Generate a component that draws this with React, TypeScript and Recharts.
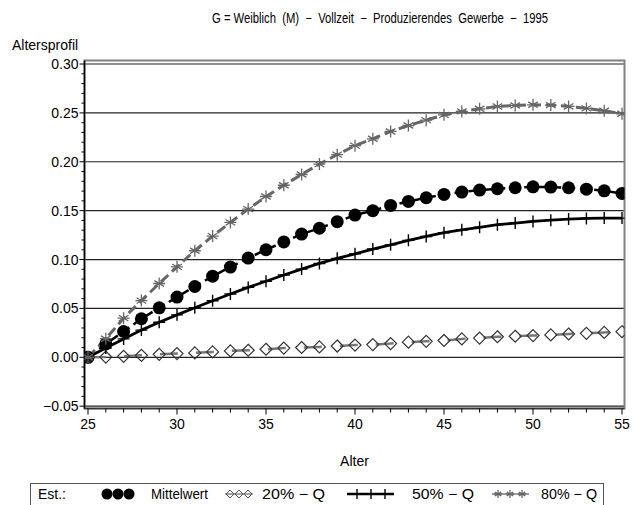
import React from 'react';
import { LineChart, Line, XAxis, YAxis, CartesianGrid, ReferenceArea } from 'recharts';

const ages = [25, 26, 27, 28, 29, 30, 31, 32, 33, 34, 35, 36, 37, 38, 39, 40, 41, 42, 43, 44, 45, 46, 47, 48, 49, 50, 51, 52, 53, 54, 55];
const mittelwert = [0, 0.0137, 0.0264, 0.0394, 0.0506, 0.0616, 0.0724, 0.083, 0.0923, 0.1015, 0.110, 0.118, 0.126, 0.132, 0.1387, 0.1455, 0.150, 0.1553, 0.1594, 0.1632, 0.1666, 0.169, 0.171, 0.1724, 0.1734, 0.1744, 0.1741, 0.1734, 0.172, 0.1703, 0.1676];
const q20 = [0, 0.0002, 0.001, 0.002, 0.003, 0.0038, 0.0045, 0.0055, 0.0065, 0.0072, 0.0082, 0.0094, 0.010, 0.0106, 0.0115, 0.0125, 0.013, 0.014, 0.0155, 0.0163, 0.0172, 0.0188, 0.0196, 0.021, 0.0215, 0.0222, 0.0229, 0.0238, 0.0245, 0.0254, 0.0262];
const q50 = [0, 0.0095, 0.0188, 0.0278, 0.0358, 0.0434, 0.0507, 0.0578, 0.0648, 0.0715, 0.0778, 0.0842, 0.0902, 0.0960, 0.1012, 0.1058, 0.1107, 0.115, 0.1196, 0.1236, 0.1274, 0.1304, 0.1330, 0.1356, 0.1373, 0.139, 0.1403, 0.1414, 0.142, 0.1424, 0.1424];
const q80 = [0, 0.019, 0.040, 0.058, 0.0755, 0.0925, 0.109, 0.124, 0.138, 0.1516, 0.1645, 0.176, 0.187, 0.1976, 0.2073, 0.2165, 0.2235, 0.231, 0.2371, 0.2426, 0.248, 0.2515, 0.2542, 0.2566, 0.2576, 0.2583, 0.258, 0.2566, 0.2546, 0.2522, 0.2491];

const xTicks = ages;
const yMajor = [-0.05, 0, 0.05, 0.1, 0.15, 0.2, 0.25, 0.3];
const yTicks: number[] = [];
for (let i = -5; i <= 30; i++) yTicks.push(i / 100);

const title = 'G = Weiblich  (M)  \u2212  Vollzeit  \u2212  Produzierendes  Gewerbe  \u2212  1995';
const yLabel = 'Altersprofil';
const xLabel = 'Alter';
const legendItems = ['Est.:', 'Mittelwert', '20% \u2212 Q', '50% \u2212 Q', '80% \u2212 Q'];

const data = ages.map((a, i) => ({ age: a, mw: mittelwert[i], q20: q20[i], q50: q50[i], q80: q80[i] }));

const FONT = '"Liberation Sans", Arial, sans-serif';

const circleDot = (p: any) =>
  p.cx == null ? <g key={p.index} /> : <circle key={p.index} cx={p.cx} cy={p.cy} r={6.5} fill="#000" />;

const diamondShape = (cx: number, cy: number, s: number, stroke: string, w: number, key?: any) => (
  <polygon key={key} points={`${cx},${cy - s} ${cx + s},${cy} ${cx},${cy + s} ${cx - s},${cy}`} fill="none" stroke={stroke} strokeWidth={w} />
);
const diamondDot = (p: any) =>
  p.cx == null ? <g key={p.index} /> : diamondShape(p.cx, p.cy, 6, '#333', 1.2, p.index);

const plusShape = (cx: number, cy: number, s: number, key?: any) => (
  <g key={key} stroke="#000" strokeWidth={1.4}>
    <line x1={cx} y1={cy - s} x2={cx} y2={cy + s} />
    <line x1={cx - s} y1={cy} x2={cx + s} y2={cy} />
  </g>
);
const plusDot = (p: any) => (p.cx == null ? <g key={p.index} /> : plusShape(p.cx, p.cy, 6, p.index));

const starShape = (cx: number, cy: number, s: number, key?: any) => {
  const d = s * 0.8;
  return (
    <g key={key} stroke="#666" strokeWidth={1.3}>
      <line x1={cx} y1={cy - s} x2={cx} y2={cy + s} />
      <line x1={cx - s} y1={cy} x2={cx + s} y2={cy} />
      <line x1={cx - d} y1={cy - d * 0.6} x2={cx + d} y2={cy + d * 0.6} />
      <line x1={cx - d} y1={cy + d * 0.6} x2={cx + d} y2={cy - d * 0.6} />
    </g>
  );
};
const starDot = (p: any) => (p.cx == null ? <g key={p.index} /> : starShape(p.cx, p.cy, 6, p.index));

const XTick = (p: any) => {
  const v = p.payload.value;
  const major = Math.round(v) % 5 === 0;
  return (
    <g>
      <line x1={p.x} y1={p.y} x2={p.x} y2={p.y + (major ? 6 : 4)} stroke="#000" strokeWidth={1} />
      {major && (
        <text x={p.x} y={p.y + 20} textAnchor="middle" fontSize={14} fontFamily={FONT} fill="#000">
          {v}
        </text>
      )}
    </g>
  );
};

const YTick = (p: any) => {
  const v = p.payload.value;
  const n = Math.round(v * 100);
  const major = n % 5 === 0;
  const label = n < 0 ? '\u2212' + Math.abs(v).toFixed(2) : v.toFixed(2);
  return (
    <g>
      <line x1={p.x} y1={p.y} x2={p.x - (major ? 5 : 3)} y2={p.y} stroke="#000" strokeWidth={1} />
      {major && (
        <text x={p.x - 6} y={p.y + 5} textAnchor="end" fontSize={14} fontFamily={FONT} fill="#000">
          {label}
        </text>
      )}
    </g>
  );
};

const Legend = () => {
  const cy = 10;
  const t = (x: number, s: string, len?: number) => (
    <text x={x} y={cy + 5} fontSize={14} fontFamily={FONT} fill="#000" xmlSpace="preserve"
      {...(len ? { textLength: len, lengthAdjust: 'spacingAndGlyphs' } : {})}>{s}</text>
  );
  return (
    <div style={{ position: 'absolute', left: 30, top: 483, width: 574, height: 30, border: '1px solid #555', boxSizing: 'border-box', background: '#fff' }}>
      <svg width={572} height={28} style={{ display: 'block' }}>
        {t(7, legendItems[0])}
        <circle cx={76} cy={cy} r={5.5} fill="#000" />
        <circle cx={87} cy={cy} r={5.5} fill="#000" />
        <circle cx={98} cy={cy} r={5.5} fill="#000" />
        {t(120, legendItems[1], 57)}
        <line x1={194} y1={cy} x2={222} y2={cy} stroke="#888" strokeWidth={1.5} />
        {diamondShape(199, cy, 4, '#555', 1)}
        {diamondShape(208, cy, 4, '#555', 1)}
        {diamondShape(217, cy, 4, '#555', 1)}
        {t(231, legendItems[2], 63)}
        <line x1={316} y1={cy} x2={363} y2={cy} stroke="#000" strokeWidth={2.5} />
        {plusShape(326, cy, 5)}
        {plusShape(340, cy, 5)}
        {plusShape(354, cy, 5)}
        {t(381, legendItems[3], 62)}
        <line x1={461} y1={cy} x2={498} y2={cy} stroke="#777" strokeWidth={1.5} />
        {starShape(467, cy, 4)}
        {starShape(479, cy, 4)}
        {starShape(491, cy, 4)}
        {t(510, legendItems[4], 56)}
      </svg>
    </div>
  );
};

export default function App() {
  return (
    <div style={{ position: 'absolute', left: 0, top: 0, width: 638, height: 505, background: '#fff', overflow: 'hidden', fontFamily: FONT }}>
      <svg width={638} height={30} style={{ position: 'absolute', left: 0, top: 0 }}>
        <text x={212} y={23} fontSize={14} fontFamily={FONT} fill="#000" xmlSpace="preserve" textLength={336} lengthAdjust="spacingAndGlyphs">
          {title}
        </text>
      </svg>
      <div style={{ position: 'absolute', left: 12, top: 37, fontSize: 14, color: '#000' }}>{yLabel}</div>
      <LineChart width={638} height={505} data={data} margin={{ top: 60.5, right: 13.5, left: 0, bottom: 0 }}>
        <CartesianGrid vertical={false} horizontalValues={yMajor} stroke="#222" strokeWidth={1.2} />
        <ReferenceArea x1={24.803} x2={55.14} y1={-0.0525} y2={0.3036} fill="none" stroke="#808080" strokeWidth={2} />
        <XAxis
          dataKey="age"
          type="number"
          domain={[24.803, 55.14]}
          ticks={xTicks}
          interval={0}
          allowDataOverflow
          height={96.4}
          tickSize={0}
          tickMargin={0}
          tickLine={false}
          axisLine={{ stroke: '#333', strokeWidth: 1.5 }}
          tick={XTick}
          label={(props: any) => {
            const vb = props.viewBox;
            return (
              <text x={vb.x + vb.width / 2} y={vb.y + 57} textAnchor="middle" fontSize={14} fontFamily={FONT} fill="#000">
                {xLabel}
              </text>
            );
          }}
        />
        <YAxis
          type="number"
          domain={[-0.0525, 0.3036]}
          ticks={yTicks}
          interval={0}
          allowDataOverflow
          width={84.5}
          tickSize={0}
          tickMargin={0}
          tickLine={false}
          axisLine={{ stroke: '#000', strokeWidth: 1.5 }}
          tick={YTick}
        />
        <Line dataKey="mw" stroke="#000" strokeWidth={2.5} strokeDasharray="9 5" dot={circleDot} activeDot={false} isAnimationActive={false} />
        <Line dataKey="q20" stroke="#777" strokeWidth={2.5} strokeDasharray="18 18" dot={diamondDot} activeDot={false} isAnimationActive={false} />
        <Line dataKey="q50" stroke="#000" strokeWidth={2.8} dot={plusDot} activeDot={false} isAnimationActive={false} />
        <Line dataKey="q80" stroke="#666" strokeWidth={3} strokeDasharray="10 5" dot={starDot} activeDot={false} isAnimationActive={false} />
      </LineChart>
      <Legend />
    </div>
  );
}
